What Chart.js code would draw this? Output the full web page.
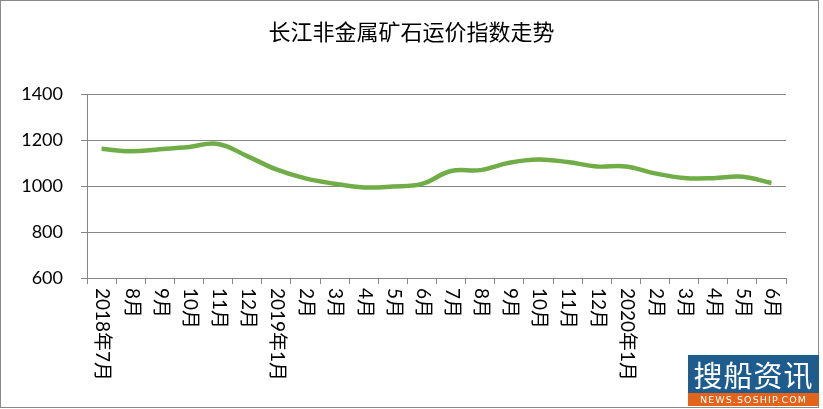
<!DOCTYPE html>
<html>
<head>
<meta charset="utf-8">
<script src="https://cdn.jsdelivr.net/npm/chart.js@4/dist/chart.umd.min.js"></script>
<style>
  body { margin: 0; background: #fff; }
  #wrap { position: relative; width: 823px; height: 409px; overflow: hidden; }
  #frame { position: absolute; left: 0; top: 0; width: 817px; height: 406px; border: 1px solid #8a8a8a; }
  #title { position: absolute; left: 0; top: 19px; width: 823px; text-align: center;
           font: 400 22px/22px "Noto Sans CJK SC", sans-serif; color: #000; }
  canvas { position: absolute; left: 0; top: 0; }
  #logo { position: absolute; left: 688px; top: 355px; width: 131px; height: 51px; }
  #logo .top { height: 38px; background: #1d5c8d; color: #fff; text-align: center;
               font: 400 29px/38px "Noto Sans CJK SC", sans-serif; letter-spacing: 1px; }
  #logo .bot { height: 13px; background: #e4631b; color: #fff; text-align: center;
               font: 400 9.5px/13px "DejaVu Sans", sans-serif; letter-spacing: 1.1px; white-space: nowrap; }
</style>
</head>
<body>
<div id="wrap">
  <div id="frame"></div>
  <canvas id="c" width="823" height="409"></canvas>
  <div id="title">长江非金属矿石运价指数走势</div>
  <div id="logo"><div class="top">搜船资讯</div><div class="bot">NEWS.SOSHIP.COM</div></div>
</div>
<script>
'use strict';

// ─── data ───
const MONTHS = [
  '2018年7月', '8月', '9月', '10月', '11月', '12月',
  '2019年1月', '2月', '3月', '4月', '5月', '6月', '7月', '8月', '9月', '10月', '11月', '12月',
  '2020年1月', '2月', '3月', '4月', '5月', '6月',
];
const INDEX_VALUES = [
  1162, 1151, 1160, 1170, 1183, 1130,
  1072, 1033, 1010, 994, 998, 1009, 1065, 1069, 1101, 1115, 1104, 1085,
  1085, 1055, 1035, 1034, 1040, 1013,
];
const Y_MIN = 600, Y_MAX = 1400, Y_STEP = 200;

const GRID = '#868686';
const LINE = '#70ad47';

// vertical month labels reading top-to-bottom, hung under each category
const verticalLabels = {
  id: 'verticalLabels',
  afterDraw(chart) {
    const xs = chart.scales.x;
    const ctx = chart.ctx;
    ctx.save();
    ctx.fillStyle = '#000';
    ctx.font = '19px Lato, "Noto Sans CJK SC", sans-serif';
    ctx.textAlign = 'left';
    ctx.textBaseline = 'middle';
    MONTHS.forEach((lbl, i) => {
      const x = xs.getPixelForTick(i);
      ctx.save();
      ctx.translate(x + 1, chart.chartArea.bottom + 10);
      ctx.rotate(Math.PI / 2);
      ctx.fillText(lbl, 0, 0);
      ctx.restore();
    });
    ctx.restore();
  },
};

new Chart(document.getElementById('c'), {
  type: 'line',
  data: {
    labels: MONTHS,
    datasets: [{
      data: INDEX_VALUES,
      borderColor: LINE,
      borderWidth: 4.5,
      tension: 0.4,
      pointRadius: 0,
      fill: false,
    }],
  },
  options: {
    responsive: false,
    animation: false,
    devicePixelRatio: 1,
    layout: { padding: { top: 94, right: 37, bottom: 0, left: 0 } },
    plugins: { legend: { display: false }, title: { display: false }, tooltip: { enabled: false } },
    scales: {
      x: {
        offset: true,
        grid: { offset: true, drawOnChartArea: false, drawTicks: true, tickLength: 6, color: GRID },
        border: { display: true, color: GRID, width: 1 },
        ticks: { display: false },
        afterFit: (s) => { s.height = 409 - 278; },
      },
      y: {
        min: Y_MIN,
        max: Y_MAX,
        grid: { color: GRID, tickLength: 6, drawTicks: true },
        border: { display: true, color: GRID, width: 1 },
        ticks: {
          stepSize: Y_STEP,
          padding: 18,
          color: '#000',
          font: { family: 'Lato, sans-serif', size: 18 },
          callback: (v) => String(v),
        },
        afterFit: (s) => { s.width = 87; },
      },
    },
  },
  plugins: [verticalLabels],
});
</script>
</body>
</html>
